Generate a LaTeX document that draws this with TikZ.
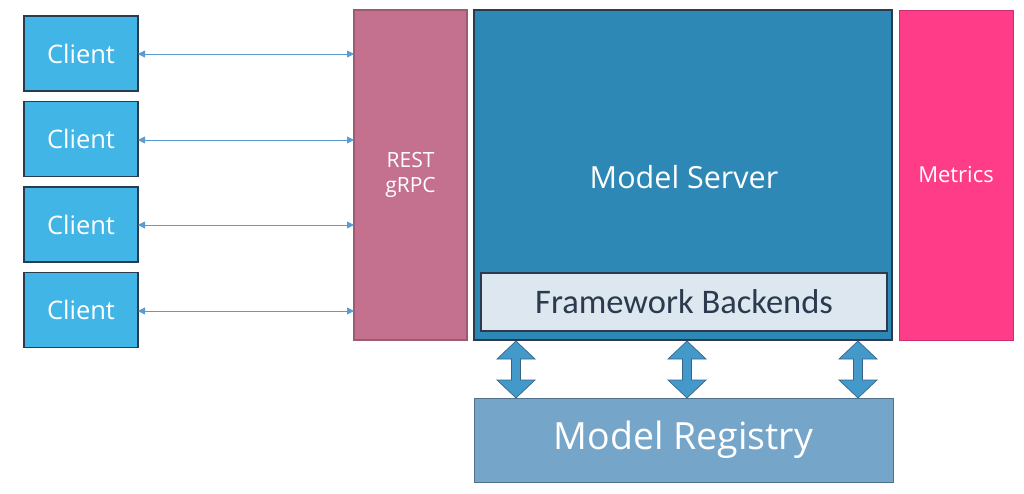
\documentclass[tikz,border=0pt]{standalone}
\usepackage{fontspec}
\setmainfont{Open Sans}
\newfontfamily\calib{Carlito}
\usetikzlibrary{arrows.meta}
\definecolor{clientc}{HTML}{41B5E6}
\definecolor{restc}{HTML}{C4708F}
\definecolor{serverc}{HTML}{2E88B5}
\definecolor{metricc}{HTML}{FF3C87}
\definecolor{fwc}{HTML}{DDE7F0}
\definecolor{regc}{HTML}{75A5C8}
\definecolor{edgec}{HTML}{2B3A4E}
\definecolor{arrc}{HTML}{5B9BD0}
\definecolor{bigarr}{HTML}{4499CB}
\begin{document}
\begin{tikzpicture}[x=1pt,y=-1pt,
  box/.style={draw=edgec,line width=1.3pt,inner sep=0pt,outer sep=0pt},
  clientbox/.style={box,fill=clientc,minimum width=114pt,minimum height=75pt,text=white,font=\fontsize{25.5}{30}\selectfont},
  conn/.style={draw=arrc,line width=0.8pt,{Triangle[length=7pt,width=7pt]}-{Triangle[length=7pt,width=7pt]}},
  vbar/.style={draw=edgec!55!bigarr, fill=bigarr, line width=0.7pt, line join=miter}
  ]
\useasboundingbox (0,0) rectangle (1024,493);
\fill[white] (0,0) rectangle (1024,493);
\node[clientbox] (c1) at (81,53.5) {Client};
\node[clientbox] (c2) at (81,139) {Client};
\node[clientbox] (c3) at (81,224.5) {Client};
\node[clientbox] (c4) at (81,310) {Client};
\node[box,draw=restc!80!black,fill=restc,minimum width=113pt,minimum height=330pt,text=white,align=center,font=\fontsize{21}{25}\selectfont] (rest) at (410.5,175) {REST\\gRPC};
\node[box,fill=serverc,minimum width=418pt,minimum height=330pt] (server) at (683,175) {};
\node[text=white,font=\fontsize{30.5}{36}\selectfont] (slabel) at (684,177) {Model Server};
\node[box,fill=fwc,minimum width=406pt,minimum height=58pt,font=\calib\fontsize{34.5}{40}\selectfont,text=edgec] (fw) at (684,302) {Framework Backends};
\node[box,draw=metricc!80!black,line width=0.8pt,fill=metricc,minimum width=114pt,minimum height=330pt,text=white,font=\fontsize{22}{26}\selectfont] (metrics) at (956,175) {Metrics};
\node[box,line width=1pt,draw=edgec!50!regc,fill=regc,minimum width=419pt,minimum height=84pt,text=white,font=\fontsize{37.5}{44}\selectfont] (reg) at (683.5,440) {Model Registry};
\foreach \c/\y in {c1/54,c2/140,c3/225,c4/311}{
  \draw[conn] (\c.east |- 0,\y) -- (rest.west |- 0,\y);
}
\foreach \xx in {516,687,858}{
  \draw[vbar] (server.south -| \xx,0) ++(0,1) -- ++(19,18) -- ++(-14.5,0) -- ++(0,21) -- ++(14.5,0)
     -- (reg.north -| \xx,0) -- ++(-19,-18) -- ++(14.5,0) -- ++(0,-21) -- ++(-14.5,0) -- cycle;
}
\end{tikzpicture}
\end{document}
